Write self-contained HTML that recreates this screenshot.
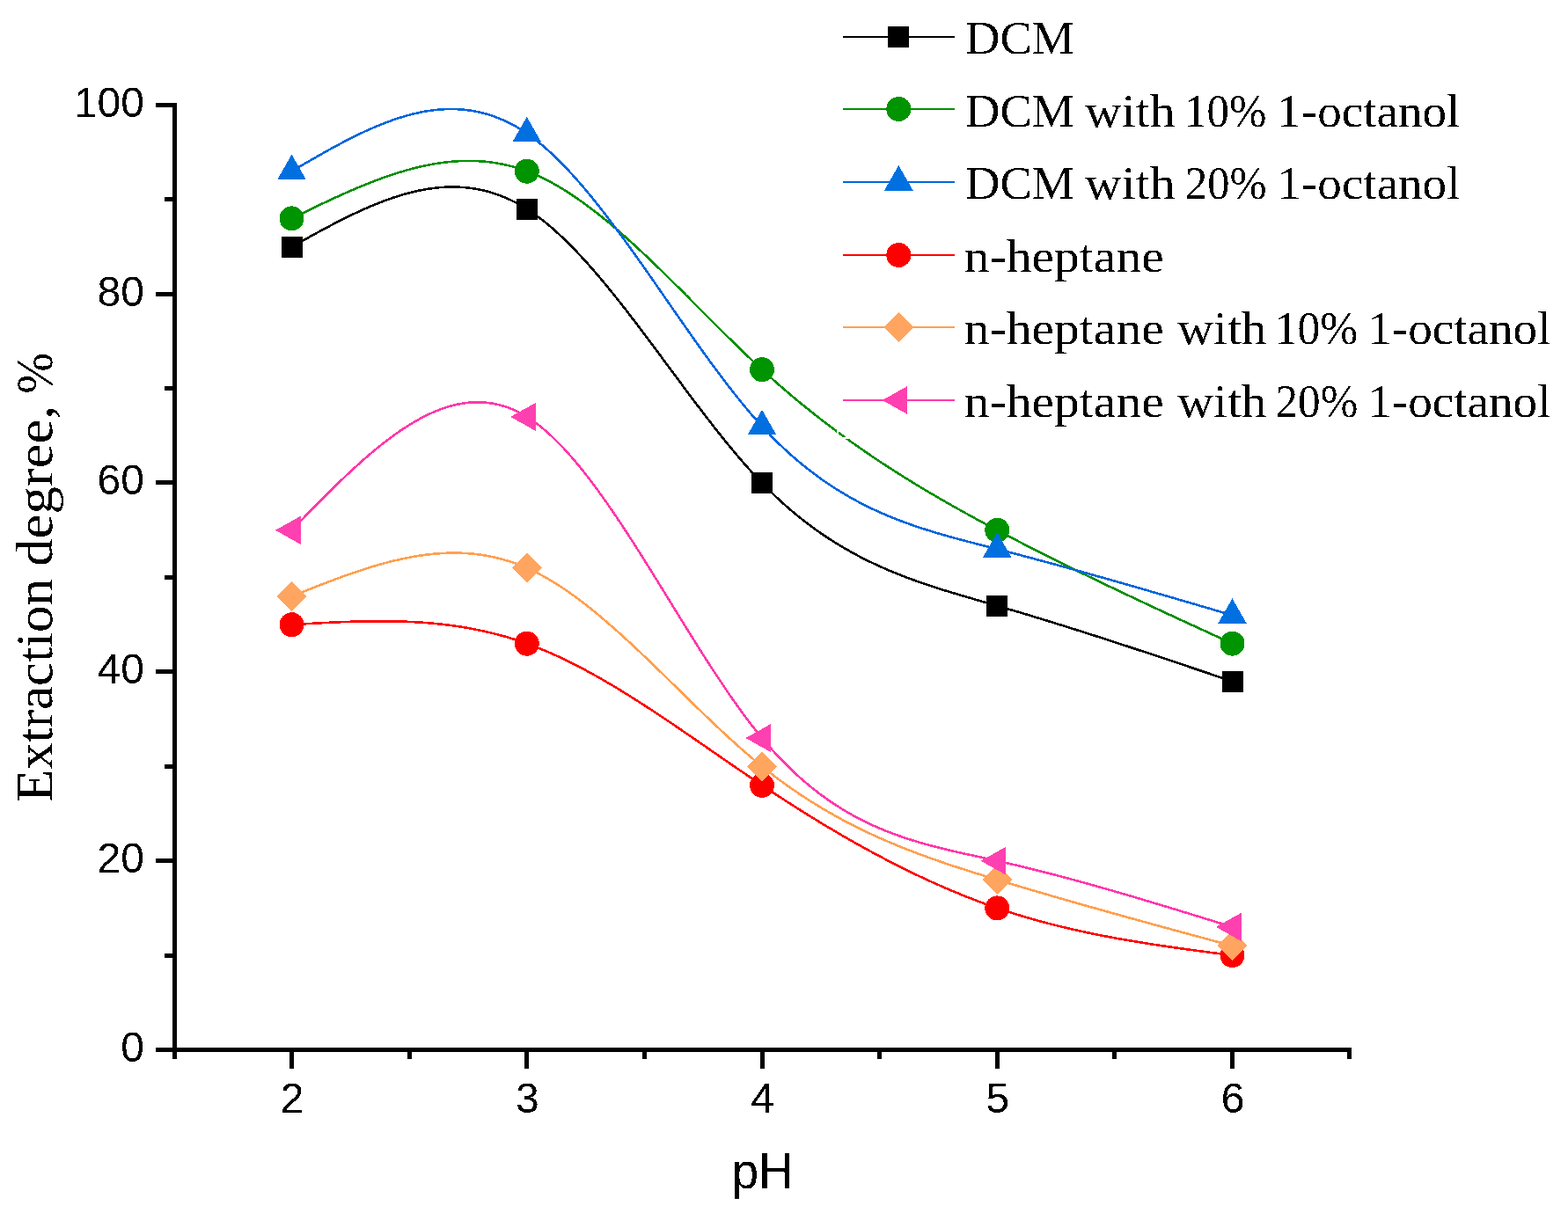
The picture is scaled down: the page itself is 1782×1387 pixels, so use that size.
<!DOCTYPE html>
<html><head><meta charset="utf-8"><title>Extraction degree vs pH</title>
<style>html,body{margin:0;padding:0;background:#fff;}body{width:1782px;height:1387px;overflow:hidden;}svg{display:block;}</style>
</head><body>
<svg width="1782" height="1387" viewBox="0 0 1782 1387"><defs><filter id="bin" x="-5%" y="-20%" width="110%" height="140%" color-interpolation-filters="sRGB"><feComponentTransfer><feFuncA type="discrete" tableValues="0 1"/></feComponentTransfer></filter></defs>
<g fill="#000" shape-rendering="crispEdges">
<rect x="196" y="117" width="5" height="1079"/>
<rect x="196" y="1191" width="1340" height="5"/>
<rect x="177" y="1191" width="22" height="5"/>
<rect x="177" y="976" width="22" height="5"/>
<rect x="177" y="761" width="22" height="5"/>
<rect x="177" y="546" width="22" height="5"/>
<rect x="177" y="332" width="22" height="5"/>
<rect x="177" y="117" width="22" height="5"/>
<rect x="187" y="1084" width="12" height="5"/>
<rect x="187" y="869" width="12" height="5"/>
<rect x="187" y="654" width="12" height="5"/>
<rect x="187" y="439" width="12" height="5"/>
<rect x="187" y="224" width="12" height="5"/>
<rect x="329" y="1193" width="5" height="22"/>
<rect x="596" y="1193" width="5" height="22"/>
<rect x="864" y="1193" width="5" height="22"/>
<rect x="1131" y="1193" width="5" height="22"/>
<rect x="1398" y="1193" width="5" height="22"/>
<rect x="196" y="1193" width="5" height="11"/>
<rect x="463" y="1193" width="5" height="11"/>
<rect x="730" y="1193" width="5" height="11"/>
<rect x="997" y="1193" width="5" height="11"/>
<rect x="1264" y="1193" width="5" height="11"/>
<rect x="1531" y="1193" width="5" height="11"/>
</g>
<g font-family="Liberation Sans, Arial, sans-serif" font-size="48" fill="#000" filter="url(#bin)">
<text x="164" y="1206.70" text-anchor="end">0</text>
<text x="164" y="991.90" text-anchor="end">20</text>
<text x="164" y="777.10" text-anchor="end">40</text>
<text x="164" y="562.30" text-anchor="end">60</text>
<text x="164" y="347.50" text-anchor="end">80</text>
<text x="164" y="132.70" text-anchor="end">100</text>
<text x="332.02" y="1264.8" text-anchor="middle">2</text>
<text x="599.27" y="1264.8" text-anchor="middle">3</text>
<text x="866.52" y="1264.8" text-anchor="middle">4</text>
<text x="1133.78" y="1264.8" text-anchor="middle">5</text>
<text x="1401.03" y="1264.8" text-anchor="middle">6</text>
</g>
<text filter="url(#bin)" x="831.7" y="1350.5" font-family="Liberation Sans, Arial, sans-serif" font-size="58" textLength="69.8" lengthAdjust="spacingAndGlyphs">pH</text>
<text filter="url(#bin)" transform="translate(59.2,912) rotate(-90)" font-family="Liberation Serif, serif" font-size="60"><tspan x="-0.03" textLength="254.05" lengthAdjust="spacingAndGlyphs">Extraction</tspan> <tspan x="268.21" textLength="182.95" lengthAdjust="spacingAndGlyphs">degree,</tspan> <tspan x="464.13" textLength="46.72" lengthAdjust="spacingAndGlyphs">%</tspan></text>
<polyline points="331.52,280.60 334.20,279.11 336.87,277.62 339.54,276.13 342.22,274.64 344.89,273.15 347.56,271.67 350.23,270.19 352.91,268.72 355.58,267.25 358.25,265.79 360.92,264.33 363.60,262.88 366.27,261.44 368.94,260.00 371.61,258.58 374.29,257.16 376.96,255.76 379.63,254.36 382.30,252.98 384.98,251.61 387.65,250.25 390.32,248.91 392.99,247.57 395.67,246.26 398.34,244.96 401.01,243.67 403.68,242.40 406.36,241.15 409.03,239.92 411.70,238.71 414.37,237.51 417.04,236.33 419.72,235.18 422.39,234.04 425.06,232.93 427.74,231.84 430.41,230.77 433.08,229.73 435.75,228.71 438.42,227.72 441.10,226.75 443.77,225.80 446.44,224.89 449.12,224.00 451.79,223.14 454.46,222.31 457.13,221.50 459.80,220.73 462.48,219.99 465.15,219.28 467.82,218.60 470.50,217.95 473.17,217.34 475.84,216.76 478.51,216.21 481.19,215.70 483.86,215.23 486.53,214.79 489.20,214.39 491.88,214.02 494.55,213.70 497.22,213.41 499.89,213.17 502.57,212.96 505.24,212.79 507.91,212.67 510.58,212.59 513.25,212.55 515.93,212.55 518.60,212.60 521.27,212.69 523.94,212.83 526.62,213.01 529.29,213.24 531.96,213.52 534.63,213.84 537.31,214.22 539.98,214.64 542.65,215.11 545.32,215.63 548.00,216.21 550.67,216.83 553.34,217.51 556.01,218.24 558.69,219.02 561.36,219.86 564.03,220.75 566.70,221.70 569.38,222.71 572.05,223.77 574.72,224.89 577.39,226.06 580.07,227.30 582.74,228.59 585.41,229.95 588.09,231.36 590.76,232.84 593.43,234.38 596.10,235.98 598.77,237.64 601.45,239.37 604.12,241.16 606.79,243.01 609.47,244.92 612.14,246.89 614.81,248.92 617.48,251.01 620.15,253.15 622.83,255.35 625.50,257.60 628.17,259.91 630.85,262.27 633.52,264.68 636.19,267.14 638.86,269.65 641.54,272.20 644.21,274.80 646.88,277.45 649.55,280.15 652.23,282.88 654.90,285.66 657.57,288.48 660.24,291.34 662.92,294.24 665.59,297.18 668.26,300.16 670.93,303.17 673.61,306.22 676.28,309.30 678.95,312.41 681.62,315.56 684.30,318.74 686.97,321.94 689.64,325.18 692.31,328.44 694.99,331.73 697.66,335.05 700.33,338.39 703.00,341.75 705.68,345.14 708.35,348.55 711.02,351.97 713.69,355.42 716.37,358.88 719.04,362.37 721.71,365.86 724.38,369.38 727.05,372.90 729.73,376.44 732.40,379.99 735.07,383.55 737.75,387.13 740.42,390.71 743.09,394.29 745.76,397.89 748.43,401.49 751.11,405.09 753.78,408.70 756.45,412.31 759.12,415.92 761.80,419.53 764.47,423.14 767.14,426.75 769.82,430.35 772.49,433.95 775.16,437.55 777.83,441.13 780.50,444.72 783.18,448.29 785.85,451.85 788.52,455.41 791.19,458.95 793.87,462.48 796.54,465.99 799.21,469.49 801.88,472.98 804.56,476.44 807.23,479.89 809.90,483.32 812.57,486.73 815.25,490.12 817.92,493.49 820.59,496.84 823.26,500.16 825.94,503.45 828.61,506.72 831.28,509.96 833.95,513.17 836.63,516.35 839.30,519.50 841.97,522.62 844.64,525.71 847.32,528.76 849.99,531.78 852.66,534.77 855.33,537.71 858.01,540.62 860.68,543.49 863.35,546.31 866.02,549.10 868.70,551.84 871.37,554.55 874.04,557.21 876.72,559.83 879.39,562.41 882.06,564.95 884.73,567.45 887.40,569.91 890.08,572.33 892.75,574.71 895.42,577.06 898.10,579.37 900.77,581.64 903.44,583.87 906.11,586.07 908.78,588.23 911.46,590.36 914.13,592.46 916.80,594.51 919.48,596.54 922.15,598.53 924.82,600.49 927.49,602.42 930.17,604.31 932.84,606.17 935.51,608.01 938.18,609.81 940.86,611.58 943.53,613.32 946.20,615.03 948.87,616.71 951.55,618.37 954.22,619.99 956.89,621.59 959.56,623.16 962.23,624.71 964.91,626.23 967.58,627.72 970.25,629.19 972.93,630.63 975.60,632.05 978.27,633.45 980.94,634.82 983.61,636.16 986.29,637.49 988.96,638.79 991.63,640.07 994.31,641.34 996.98,642.57 999.65,643.79 1002.32,644.99 1004.99,646.17 1007.67,647.33 1010.34,648.48 1013.01,649.60 1015.69,650.71 1018.36,651.80 1021.03,652.87 1023.70,653.93 1026.38,654.97 1029.05,655.99 1031.72,657.00 1034.39,658.00 1037.07,658.98 1039.74,659.95 1042.41,660.90 1045.08,661.84 1047.75,662.77 1050.43,663.69 1053.10,664.60 1055.77,665.49 1058.45,666.38 1061.12,667.25 1063.79,668.12 1066.46,668.97 1069.13,669.82 1071.81,670.66 1074.48,671.49 1077.15,672.31 1079.83,673.13 1082.50,673.94 1085.17,674.75 1087.84,675.55 1090.52,676.34 1093.19,677.13 1095.86,677.92 1098.53,678.70 1101.20,679.48 1103.88,680.25 1106.55,681.02 1109.22,681.79 1111.89,682.56 1114.57,683.33 1117.24,684.10 1119.91,684.87 1122.59,685.64 1125.26,686.40 1127.93,687.17 1130.60,687.95 1133.28,688.72 1135.95,689.50 1138.62,690.27 1141.29,691.06 1143.97,691.84 1146.64,692.63 1149.31,693.41 1151.98,694.20 1154.65,695.00 1157.33,695.79 1160.00,696.59 1162.67,697.39 1165.35,698.19 1168.02,699.00 1170.69,699.80 1173.36,700.61 1176.04,701.42 1178.71,702.24 1181.38,703.05 1184.05,703.87 1186.73,704.69 1189.40,705.51 1192.07,706.33 1194.74,707.16 1197.42,707.99 1200.09,708.82 1202.76,709.65 1205.43,710.48 1208.11,711.31 1210.78,712.15 1213.45,712.99 1216.12,713.83 1218.80,714.67 1221.47,715.52 1224.14,716.36 1226.81,717.21 1229.48,718.06 1232.16,718.91 1234.83,719.76 1237.50,720.61 1240.18,721.47 1242.85,722.32 1245.52,723.18 1248.19,724.04 1250.87,724.90 1253.54,725.77 1256.21,726.63 1258.88,727.49 1261.56,728.36 1264.23,729.23 1266.90,730.10 1269.57,730.97 1272.24,731.84 1274.92,732.71 1277.59,733.59 1280.26,734.46 1282.94,735.34 1285.61,736.22 1288.28,737.09 1290.95,737.97 1293.62,738.85 1296.30,739.74 1298.97,740.62 1301.64,741.50 1304.32,742.39 1306.99,743.27 1309.66,744.16 1312.33,745.05 1315.01,745.93 1317.68,746.82 1320.35,747.71 1323.02,748.60 1325.70,749.49 1328.37,750.39 1331.04,751.28 1333.71,752.17 1336.38,753.06 1339.06,753.96 1341.73,754.85 1344.40,755.75 1347.08,756.65 1349.75,757.54 1352.42,758.44 1355.09,759.34 1357.77,760.23 1360.44,761.13 1363.11,762.03 1365.78,762.93 1368.46,763.83 1371.13,764.73 1373.80,765.63 1376.47,766.53 1379.14,767.43 1381.82,768.33 1384.49,769.23 1387.16,770.13 1389.84,771.03 1392.51,771.94 1395.18,772.84 1397.85,773.74 1400.53,774.64" fill="none" stroke="#000000" stroke-width="2.6" stroke-linejoin="round" shape-rendering="crispEdges"/>
<rect x="319.52" y="268.60" width="24" height="24" fill="#000000" shape-rendering="crispEdges"/>
<rect x="586.77" y="225.64" width="24" height="24" fill="#000000" shape-rendering="crispEdges"/>
<rect x="854.02" y="537.10" width="24" height="24" fill="#000000" shape-rendering="crispEdges"/>
<rect x="1121.28" y="676.72" width="24" height="24" fill="#000000" shape-rendering="crispEdges"/>
<rect x="1388.53" y="762.64" width="24" height="24" fill="#000000" shape-rendering="crispEdges"/>
<polyline points="331.52,248.38 334.20,247.07 336.87,245.77 339.54,244.46 342.22,243.16 344.89,241.86 347.56,240.56 350.23,239.26 352.91,237.97 355.58,236.68 358.25,235.40 360.92,234.12 363.60,232.84 366.27,231.57 368.94,230.31 371.61,229.05 374.29,227.80 376.96,226.55 379.63,225.32 382.30,224.09 384.98,222.87 387.65,221.66 390.32,220.47 392.99,219.28 395.67,218.10 398.34,216.93 401.01,215.77 403.68,214.63 406.36,213.50 409.03,212.38 411.70,211.27 414.37,210.18 417.04,209.11 419.72,208.04 422.39,207.00 425.06,205.97 427.74,204.95 430.41,203.95 433.08,202.97 435.75,202.01 438.42,201.06 441.10,200.13 443.77,199.22 446.44,198.33 449.12,197.46 451.79,196.62 454.46,195.79 457.13,194.98 459.80,194.19 462.48,193.43 465.15,192.69 467.82,191.97 470.50,191.28 473.17,190.61 475.84,189.96 478.51,189.34 481.19,188.75 483.86,188.18 486.53,187.63 489.20,187.12 491.88,186.63 494.55,186.17 497.22,185.73 499.89,185.33 502.57,184.95 505.24,184.61 507.91,184.29 510.58,184.00 513.25,183.75 515.93,183.53 518.60,183.33 521.27,183.18 523.94,183.05 526.62,182.96 529.29,182.90 531.96,182.87 534.63,182.88 537.31,182.92 539.98,183.00 542.65,183.12 545.32,183.27 548.00,183.46 550.67,183.69 553.34,183.95 556.01,184.25 558.69,184.59 561.36,184.98 564.03,185.40 566.70,185.86 569.38,186.36 572.05,186.90 574.72,187.48 577.39,188.11 580.07,188.78 582.74,189.49 585.41,190.24 588.09,191.04 590.76,191.88 593.43,192.77 596.10,193.70 598.77,194.68 601.45,195.70 604.12,196.77 606.79,197.89 609.47,199.05 612.14,200.25 614.81,201.49 617.48,202.78 620.15,204.11 622.83,205.48 625.50,206.89 628.17,208.34 630.85,209.83 633.52,211.36 636.19,212.93 638.86,214.53 641.54,216.17 644.21,217.85 646.88,219.56 649.55,221.31 652.23,223.09 654.90,224.90 657.57,226.75 660.24,228.63 662.92,230.54 665.59,232.48 668.26,234.46 670.93,236.46 673.61,238.49 676.28,240.55 678.95,242.64 681.62,244.75 684.30,246.89 686.97,249.06 689.64,251.25 692.31,253.47 694.99,255.71 697.66,257.97 700.33,260.26 703.00,262.57 705.68,264.90 708.35,267.25 711.02,269.63 713.69,272.02 716.37,274.43 719.04,276.86 721.71,279.30 724.38,281.77 727.05,284.25 729.73,286.74 732.40,289.25 735.07,291.78 737.75,294.32 740.42,296.87 743.09,299.44 745.76,302.02 748.43,304.61 751.11,307.21 753.78,309.82 756.45,312.43 759.12,315.06 761.80,317.70 764.47,320.34 767.14,323.00 769.82,325.65 772.49,328.32 775.16,330.98 777.83,333.66 780.50,336.33 783.18,339.01 785.85,341.70 788.52,344.38 791.19,347.07 793.87,349.75 796.54,352.44 799.21,355.12 801.88,357.81 804.56,360.49 807.23,363.17 809.90,365.85 812.57,368.52 815.25,371.19 817.92,373.85 820.59,376.51 823.26,379.16 825.94,381.81 828.61,384.45 831.28,387.07 833.95,389.69 836.63,392.31 839.30,394.91 841.97,397.50 844.64,400.07 847.32,402.64 849.99,405.20 852.66,407.74 855.33,410.26 858.01,412.78 860.68,415.27 863.35,417.75 866.02,420.22 868.70,422.67 871.37,425.10 874.04,427.51 876.72,429.91 879.39,432.29 882.06,434.66 884.73,437.01 887.40,439.34 890.08,441.66 892.75,443.96 895.42,446.24 898.10,448.51 900.77,450.77 903.44,453.01 906.11,455.23 908.78,457.44 911.46,459.63 914.13,461.81 916.80,463.98 919.48,466.13 922.15,468.26 924.82,470.38 927.49,472.49 930.17,474.58 932.84,476.66 935.51,478.73 938.18,480.78 940.86,482.82 943.53,484.84 946.20,486.85 948.87,488.85 951.55,490.84 954.22,492.81 956.89,494.77 959.56,496.72 962.23,498.66 964.91,500.58 967.58,502.49 970.25,504.39 972.93,506.28 975.60,508.15 978.27,510.02 980.94,511.87 983.61,513.71 986.29,515.54 988.96,517.36 991.63,519.17 994.31,520.97 996.98,522.75 999.65,524.53 1002.32,526.29 1004.99,528.05 1007.67,529.79 1010.34,531.53 1013.01,533.25 1015.69,534.97 1018.36,536.67 1021.03,538.37 1023.70,540.06 1026.38,541.74 1029.05,543.40 1031.72,545.06 1034.39,546.71 1037.07,548.36 1039.74,549.99 1042.41,551.62 1045.08,553.23 1047.75,554.84 1050.43,556.44 1053.10,558.03 1055.77,559.62 1058.45,561.20 1061.12,562.77 1063.79,564.33 1066.46,565.88 1069.13,567.43 1071.81,568.97 1074.48,570.51 1077.15,572.04 1079.83,573.56 1082.50,575.07 1085.17,576.58 1087.84,578.08 1090.52,579.58 1093.19,581.07 1095.86,582.55 1098.53,584.03 1101.20,585.50 1103.88,586.97 1106.55,588.43 1109.22,589.89 1111.89,591.34 1114.57,592.79 1117.24,594.23 1119.91,595.67 1122.59,597.11 1125.26,598.54 1127.93,599.96 1130.60,601.38 1133.28,602.80 1135.95,604.21 1138.62,605.62 1141.29,607.03 1143.97,608.43 1146.64,609.83 1149.31,611.23 1151.98,612.62 1154.65,614.00 1157.33,615.39 1160.00,616.77 1162.67,618.15 1165.35,619.52 1168.02,620.89 1170.69,622.26 1173.36,623.62 1176.04,624.99 1178.71,626.34 1181.38,627.70 1184.05,629.05 1186.73,630.40 1189.40,631.74 1192.07,633.09 1194.74,634.43 1197.42,635.76 1200.09,637.10 1202.76,638.43 1205.43,639.76 1208.11,641.08 1210.78,642.40 1213.45,643.72 1216.12,645.04 1218.80,646.36 1221.47,647.67 1224.14,648.98 1226.81,650.28 1229.48,651.59 1232.16,652.89 1234.83,654.19 1237.50,655.49 1240.18,656.78 1242.85,658.08 1245.52,659.37 1248.19,660.65 1250.87,661.94 1253.54,663.22 1256.21,664.51 1258.88,665.79 1261.56,667.06 1264.23,668.34 1266.90,669.61 1269.57,670.89 1272.24,672.16 1274.92,673.42 1277.59,674.69 1280.26,675.96 1282.94,677.22 1285.61,678.48 1288.28,679.74 1290.95,681.00 1293.62,682.25 1296.30,683.51 1298.97,684.76 1301.64,686.02 1304.32,687.27 1306.99,688.52 1309.66,689.76 1312.33,691.01 1315.01,692.26 1317.68,693.50 1320.35,694.74 1323.02,695.99 1325.70,697.23 1328.37,698.47 1331.04,699.71 1333.71,700.94 1336.38,702.18 1339.06,703.42 1341.73,704.65 1344.40,705.89 1347.08,707.12 1349.75,708.35 1352.42,709.58 1355.09,710.82 1357.77,712.05 1360.44,713.28 1363.11,714.51 1365.78,715.73 1368.46,716.96 1371.13,718.19 1373.80,719.42 1376.47,720.65 1379.14,721.87 1381.82,723.10 1384.49,724.33 1387.16,725.55 1389.84,726.78 1392.51,728.00 1395.18,729.23 1397.85,730.45 1400.53,731.68" fill="none" stroke="#009000" stroke-width="2.6" stroke-linejoin="round" shape-rendering="crispEdges"/>
<circle cx="331.52" cy="248.38" r="14" fill="#009400" shape-rendering="crispEdges"/>
<circle cx="598.77" cy="194.68" r="14" fill="#009400" shape-rendering="crispEdges"/>
<circle cx="866.02" cy="420.22" r="14" fill="#009400" shape-rendering="crispEdges"/>
<circle cx="1133.28" cy="602.80" r="14" fill="#009400" shape-rendering="crispEdges"/>
<circle cx="1400.53" cy="731.68" r="14" fill="#009400" shape-rendering="crispEdges"/>
<polyline points="331.52,194.68 334.20,193.12 336.87,191.55 339.54,189.99 342.22,188.44 344.89,186.88 347.56,185.33 350.23,183.78 352.91,182.23 355.58,180.70 358.25,179.16 360.92,177.64 363.60,176.12 366.27,174.61 368.94,173.11 371.61,171.62 374.29,170.14 376.96,168.66 379.63,167.21 382.30,165.76 384.98,164.33 387.65,162.91 390.32,161.50 392.99,160.11 395.67,158.73 398.34,157.37 401.01,156.03 403.68,154.71 406.36,153.40 409.03,152.12 411.70,150.85 414.37,149.60 417.04,148.38 419.72,147.17 422.39,145.99 425.06,144.83 427.74,143.70 430.41,142.59 433.08,141.50 435.75,140.44 438.42,139.41 441.10,138.41 443.77,137.43 446.44,136.48 449.12,135.56 451.79,134.67 454.46,133.81 457.13,132.98 459.80,132.19 462.48,131.43 465.15,130.70 467.82,130.00 470.50,129.34 473.17,128.71 475.84,128.12 478.51,127.57 481.19,127.05 483.86,126.58 486.53,126.14 489.20,125.74 491.88,125.38 494.55,125.06 497.22,124.78 499.89,124.55 502.57,124.36 505.24,124.21 507.91,124.10 510.58,124.05 513.25,124.03 515.93,124.06 518.60,124.14 521.27,124.27 523.94,124.45 526.62,124.67 529.29,124.94 531.96,125.27 534.63,125.64 537.31,126.07 539.98,126.55 542.65,127.08 545.32,127.67 548.00,128.31 550.67,129.00 553.34,129.76 556.01,130.56 558.69,131.43 561.36,132.35 564.03,133.33 566.70,134.37 569.38,135.47 572.05,136.63 574.72,137.86 577.39,139.14 580.07,140.49 582.74,141.90 585.41,143.37 588.09,144.91 590.76,146.51 593.43,148.18 596.10,149.92 598.77,151.72 601.45,153.59 604.12,155.53 606.79,157.53 609.47,159.60 612.14,161.73 614.81,163.93 617.48,166.18 620.15,168.50 622.83,170.87 625.50,173.30 628.17,175.79 630.85,178.33 633.52,180.93 636.19,183.58 638.86,186.29 641.54,189.04 644.21,191.84 646.88,194.70 649.55,197.60 652.23,200.54 654.90,203.53 657.57,206.57 660.24,209.64 662.92,212.76 665.59,215.92 668.26,219.12 670.93,222.36 673.61,225.63 676.28,228.94 678.95,232.29 681.62,235.67 684.30,239.08 686.97,242.52 689.64,246.00 692.31,249.50 694.99,253.03 697.66,256.59 700.33,260.17 703.00,263.77 705.68,267.41 708.35,271.06 711.02,274.73 713.69,278.42 716.37,282.14 719.04,285.87 721.71,289.61 724.38,293.38 727.05,297.15 729.73,300.94 732.40,304.74 735.07,308.55 737.75,312.37 740.42,316.20 743.09,320.04 745.76,323.88 748.43,327.73 751.11,331.58 753.78,335.44 756.45,339.30 759.12,343.15 761.80,347.01 764.47,350.86 767.14,354.72 769.82,358.56 772.49,362.40 775.16,366.24 777.83,370.07 780.50,373.89 783.18,377.70 785.85,381.50 788.52,385.28 791.19,389.06 793.87,392.81 796.54,396.56 799.21,400.28 801.88,403.99 804.56,407.68 807.23,411.35 809.90,415.00 812.57,418.62 815.25,422.23 817.92,425.80 820.59,429.36 823.26,432.88 825.94,436.38 828.61,439.84 831.28,443.28 833.95,446.68 836.63,450.06 839.30,453.39 841.97,456.70 844.64,459.96 847.32,463.19 849.99,466.39 852.66,469.54 855.33,472.65 858.01,475.72 860.68,478.74 863.35,481.72 866.02,484.66 868.70,487.55 871.37,490.39 874.04,493.19 876.72,495.95 879.39,498.66 882.06,501.32 884.73,503.94 887.40,506.52 890.08,509.06 892.75,511.55 895.42,514.00 898.10,516.41 900.77,518.78 903.44,521.11 906.11,523.40 908.78,525.65 911.46,527.86 914.13,530.04 916.80,532.17 919.48,534.27 922.15,536.33 924.82,538.36 927.49,540.35 930.17,542.30 932.84,544.22 935.51,546.11 938.18,547.96 940.86,549.78 943.53,551.56 946.20,553.32 948.87,555.04 951.55,556.73 954.22,558.38 956.89,560.01 959.56,561.61 962.23,563.18 964.91,564.72 967.58,566.23 970.25,567.71 972.93,569.17 975.60,570.59 978.27,571.99 980.94,573.37 983.61,574.72 986.29,576.04 988.96,577.34 991.63,578.62 994.31,579.87 996.98,581.10 999.65,582.30 1002.32,583.49 1004.99,584.65 1007.67,585.79 1010.34,586.91 1013.01,588.01 1015.69,589.09 1018.36,590.15 1021.03,591.19 1023.70,592.21 1026.38,593.21 1029.05,594.20 1031.72,595.17 1034.39,596.13 1037.07,597.06 1039.74,597.99 1042.41,598.89 1045.08,599.79 1047.75,600.66 1050.43,601.53 1053.10,602.38 1055.77,603.22 1058.45,604.05 1061.12,604.87 1063.79,605.67 1066.46,606.46 1069.13,607.25 1071.81,608.02 1074.48,608.79 1077.15,609.55 1079.83,610.29 1082.50,611.03 1085.17,611.77 1087.84,612.49 1090.52,613.21 1093.19,613.93 1095.86,614.64 1098.53,615.34 1101.20,616.04 1103.88,616.74 1106.55,617.43 1109.22,618.12 1111.89,618.81 1114.57,619.49 1117.24,620.18 1119.91,620.86 1122.59,621.54 1125.26,622.23 1127.93,622.91 1130.60,623.59 1133.28,624.28 1135.95,624.97 1138.62,625.66 1141.29,626.35 1143.97,627.04 1146.64,627.74 1149.31,628.43 1151.98,629.13 1154.65,629.83 1157.33,630.54 1160.00,631.24 1162.67,631.95 1165.35,632.65 1168.02,633.36 1170.69,634.08 1173.36,634.79 1176.04,635.50 1178.71,636.22 1181.38,636.94 1184.05,637.66 1186.73,638.38 1189.40,639.10 1192.07,639.82 1194.74,640.55 1197.42,641.28 1200.09,642.01 1202.76,642.74 1205.43,643.47 1208.11,644.20 1210.78,644.93 1213.45,645.67 1216.12,646.41 1218.80,647.15 1221.47,647.89 1224.14,648.63 1226.81,649.37 1229.48,650.11 1232.16,650.86 1234.83,651.60 1237.50,652.35 1240.18,653.10 1242.85,653.85 1245.52,654.60 1248.19,655.35 1250.87,656.11 1253.54,656.86 1256.21,657.62 1258.88,658.37 1261.56,659.13 1264.23,659.89 1266.90,660.65 1269.57,661.41 1272.24,662.17 1274.92,662.93 1277.59,663.69 1280.26,664.46 1282.94,665.22 1285.61,665.99 1288.28,666.76 1290.95,667.52 1293.62,668.29 1296.30,669.06 1298.97,669.83 1301.64,670.60 1304.32,671.37 1306.99,672.15 1309.66,672.92 1312.33,673.69 1315.01,674.47 1317.68,675.24 1320.35,676.02 1323.02,676.79 1325.70,677.57 1328.37,678.35 1331.04,679.12 1333.71,679.90 1336.38,680.68 1339.06,681.46 1341.73,682.24 1344.40,683.02 1347.08,683.80 1349.75,684.58 1352.42,685.36 1355.09,686.14 1357.77,686.92 1360.44,687.70 1363.11,688.49 1365.78,689.27 1368.46,690.05 1371.13,690.84 1373.80,691.62 1376.47,692.40 1379.14,693.19 1381.82,693.97 1384.49,694.75 1387.16,695.54 1389.84,696.32 1392.51,697.11 1395.18,697.89 1397.85,698.68 1400.53,699.46" fill="none" stroke="#0066DD" stroke-width="2.6" stroke-linejoin="round" shape-rendering="crispEdges"/>
<polygon points="331.52,175.68 347.82,204.18 315.22,204.18" fill="#0070E0" shape-rendering="crispEdges"/>
<polygon points="598.77,132.72 615.07,161.22 582.48,161.22" fill="#0070E0" shape-rendering="crispEdges"/>
<polygon points="866.02,465.66 882.32,494.16 849.73,494.16" fill="#0070E0" shape-rendering="crispEdges"/>
<polygon points="1133.28,605.28 1149.58,633.78 1116.98,633.78" fill="#0070E0" shape-rendering="crispEdges"/>
<polygon points="1400.53,680.46 1416.83,708.96 1384.23,708.96" fill="#0070E0" shape-rendering="crispEdges"/>
<polyline points="331.52,710.20 334.20,710.04 336.87,709.88 339.54,709.72 342.22,709.57 344.89,709.41 347.56,709.25 350.23,709.10 352.91,708.95 355.58,708.79 358.25,708.65 360.92,708.50 363.60,708.35 366.27,708.21 368.94,708.07 371.61,707.94 374.29,707.81 376.96,707.68 379.63,707.55 382.30,707.43 384.98,707.32 387.65,707.20 390.32,707.10 392.99,706.99 395.67,706.90 398.34,706.80 401.01,706.72 403.68,706.64 406.36,706.56 409.03,706.50 411.70,706.43 414.37,706.38 417.04,706.33 419.72,706.29 422.39,706.26 425.06,706.23 427.74,706.21 430.41,706.20 433.08,706.20 435.75,706.21 438.42,706.23 441.10,706.25 443.77,706.29 446.44,706.33 449.12,706.38 451.79,706.44 454.46,706.52 457.13,706.60 459.80,706.70 462.48,706.80 465.15,706.92 467.82,707.04 470.50,707.18 473.17,707.33 475.84,707.49 478.51,707.67 481.19,707.85 483.86,708.05 486.53,708.26 489.20,708.49 491.88,708.73 494.55,708.98 497.22,709.24 499.89,709.52 502.57,709.82 505.24,710.12 507.91,710.45 510.58,710.78 513.25,711.13 515.93,711.50 518.60,711.88 521.27,712.28 523.94,712.70 526.62,713.13 529.29,713.58 531.96,714.04 534.63,714.52 537.31,715.02 539.98,715.53 542.65,716.06 545.32,716.61 548.00,717.18 550.67,717.77 553.34,718.37 556.01,718.99 558.69,719.64 561.36,720.30 564.03,720.98 566.70,721.68 569.38,722.40 572.05,723.14 574.72,723.90 577.39,724.68 580.07,725.48 582.74,726.30 585.41,727.14 588.09,728.01 590.76,728.89 593.43,729.80 596.10,730.73 598.77,731.68 601.45,732.65 604.12,733.65 606.79,734.67 609.47,735.71 612.14,736.77 614.81,737.85 617.48,738.95 620.15,740.08 622.83,741.22 625.50,742.38 628.17,743.56 630.85,744.77 633.52,745.99 636.19,747.23 638.86,748.49 641.54,749.76 644.21,751.06 646.88,752.37 649.55,753.70 652.23,755.04 654.90,756.41 657.57,757.79 660.24,759.18 662.92,760.59 665.59,762.02 668.26,763.46 670.93,764.92 673.61,766.39 676.28,767.88 678.95,769.38 681.62,770.90 684.30,772.42 686.97,773.97 689.64,775.52 692.31,777.09 694.99,778.67 697.66,780.26 700.33,781.87 703.00,783.48 705.68,785.11 708.35,786.75 711.02,788.40 713.69,790.06 716.37,791.73 719.04,793.41 721.71,795.10 724.38,796.80 727.05,798.50 729.73,800.22 732.40,801.95 735.07,803.68 737.75,805.42 740.42,807.17 743.09,808.93 745.76,810.69 748.43,812.46 751.11,814.24 753.78,816.02 756.45,817.81 759.12,819.60 761.80,821.40 764.47,823.21 767.14,825.02 769.82,826.83 772.49,828.65 775.16,830.48 777.83,832.30 780.50,834.13 783.18,835.96 785.85,837.80 788.52,839.64 791.19,841.48 793.87,843.32 796.54,845.17 799.21,847.01 801.88,848.86 804.56,850.71 807.23,852.55 809.90,854.40 812.57,856.25 815.25,858.10 817.92,859.95 820.59,861.79 823.26,863.64 825.94,865.48 828.61,867.33 831.28,869.17 833.95,871.00 836.63,872.84 839.30,874.67 841.97,876.50 844.64,878.33 847.32,880.15 849.99,881.97 852.66,883.78 855.33,885.59 858.01,887.40 860.68,889.20 863.35,890.99 866.02,892.78 868.70,894.56 871.37,896.34 874.04,898.11 876.72,899.87 879.39,901.63 882.06,903.38 884.73,905.13 887.40,906.87 890.08,908.60 892.75,910.33 895.42,912.05 898.10,913.76 900.77,915.47 903.44,917.17 906.11,918.86 908.78,920.55 911.46,922.22 914.13,923.90 916.80,925.56 919.48,927.22 922.15,928.87 924.82,930.52 927.49,932.15 930.17,933.78 932.84,935.41 935.51,937.02 938.18,938.63 940.86,940.23 943.53,941.82 946.20,943.41 948.87,944.99 951.55,946.56 954.22,948.12 956.89,949.67 959.56,951.22 962.23,952.76 964.91,954.29 967.58,955.82 970.25,957.33 972.93,958.84 975.60,960.34 978.27,961.83 980.94,963.31 983.61,964.78 986.29,966.25 988.96,967.71 991.63,969.15 994.31,970.60 996.98,972.03 999.65,973.45 1002.32,974.86 1004.99,976.27 1007.67,977.67 1010.34,979.05 1013.01,980.43 1015.69,981.80 1018.36,983.17 1021.03,984.52 1023.70,985.86 1026.38,987.19 1029.05,988.52 1031.72,989.83 1034.39,991.14 1037.07,992.44 1039.74,993.72 1042.41,995.00 1045.08,996.27 1047.75,997.53 1050.43,998.78 1053.10,1000.01 1055.77,1001.24 1058.45,1002.46 1061.12,1003.67 1063.79,1004.87 1066.46,1006.06 1069.13,1007.24 1071.81,1008.41 1074.48,1009.57 1077.15,1010.72 1079.83,1011.86 1082.50,1012.99 1085.17,1014.11 1087.84,1015.21 1090.52,1016.31 1093.19,1017.40 1095.86,1018.47 1098.53,1019.54 1101.20,1020.59 1103.88,1021.64 1106.55,1022.67 1109.22,1023.69 1111.89,1024.71 1114.57,1025.71 1117.24,1026.70 1119.91,1027.68 1122.59,1028.64 1125.26,1029.60 1127.93,1030.54 1130.60,1031.48 1133.28,1032.40 1135.95,1033.31 1138.62,1034.21 1141.29,1035.10 1143.97,1035.98 1146.64,1036.84 1149.31,1037.70 1151.98,1038.54 1154.65,1039.38 1157.33,1040.20 1160.00,1041.02 1162.67,1041.82 1165.35,1042.61 1168.02,1043.40 1170.69,1044.17 1173.36,1044.93 1176.04,1045.69 1178.71,1046.43 1181.38,1047.17 1184.05,1047.89 1186.73,1048.61 1189.40,1049.32 1192.07,1050.01 1194.74,1050.70 1197.42,1051.38 1200.09,1052.06 1202.76,1052.72 1205.43,1053.37 1208.11,1054.02 1210.78,1054.66 1213.45,1055.29 1216.12,1055.91 1218.80,1056.52 1221.47,1057.13 1224.14,1057.73 1226.81,1058.32 1229.48,1058.91 1232.16,1059.48 1234.83,1060.05 1237.50,1060.62 1240.18,1061.17 1242.85,1061.72 1245.52,1062.26 1248.19,1062.80 1250.87,1063.33 1253.54,1063.85 1256.21,1064.37 1258.88,1064.88 1261.56,1065.38 1264.23,1065.88 1266.90,1066.37 1269.57,1066.86 1272.24,1067.34 1274.92,1067.81 1277.59,1068.28 1280.26,1068.75 1282.94,1069.21 1285.61,1069.66 1288.28,1070.11 1290.95,1070.56 1293.62,1071.00 1296.30,1071.44 1298.97,1071.87 1301.64,1072.29 1304.32,1072.72 1306.99,1073.14 1309.66,1073.55 1312.33,1073.96 1315.01,1074.37 1317.68,1074.77 1320.35,1075.17 1323.02,1075.57 1325.70,1075.96 1328.37,1076.35 1331.04,1076.74 1333.71,1077.13 1336.38,1077.51 1339.06,1077.88 1341.73,1078.26 1344.40,1078.63 1347.08,1079.01 1349.75,1079.37 1352.42,1079.74 1355.09,1080.11 1357.77,1080.47 1360.44,1080.83 1363.11,1081.19 1365.78,1081.55 1368.46,1081.90 1371.13,1082.26 1373.80,1082.61 1376.47,1082.96 1379.14,1083.31 1381.82,1083.66 1384.49,1084.01 1387.16,1084.36 1389.84,1084.71 1392.51,1085.06 1395.18,1085.41 1397.85,1085.75 1400.53,1086.10" fill="none" stroke="#FF0000" stroke-width="2.6" stroke-linejoin="round" shape-rendering="crispEdges"/>
<circle cx="331.52" cy="710.20" r="14" fill="#FF0000" shape-rendering="crispEdges"/>
<circle cx="598.77" cy="731.68" r="14" fill="#FF0000" shape-rendering="crispEdges"/>
<circle cx="866.02" cy="892.78" r="14" fill="#FF0000" shape-rendering="crispEdges"/>
<circle cx="1133.28" cy="1032.40" r="14" fill="#FF0000" shape-rendering="crispEdges"/>
<circle cx="1400.53" cy="1086.10" r="14" fill="#FF0000" shape-rendering="crispEdges"/>
<polyline points="331.52,677.98 334.20,676.91 336.87,675.84 339.54,674.77 342.22,673.70 344.89,672.63 347.56,671.56 350.23,670.50 352.91,669.44 355.58,668.39 358.25,667.33 360.92,666.29 363.60,665.24 366.27,664.21 368.94,663.18 371.61,662.15 374.29,661.13 376.96,660.12 379.63,659.12 382.30,658.12 384.98,657.14 387.65,656.16 390.32,655.19 392.99,654.23 395.67,653.29 398.34,652.35 401.01,651.42 403.68,650.51 406.36,649.61 409.03,648.72 411.70,647.84 414.37,646.98 417.04,646.13 419.72,645.30 422.39,644.48 425.06,643.67 427.74,642.88 430.41,642.11 433.08,641.36 435.75,640.62 438.42,639.90 441.10,639.19 443.77,638.51 446.44,637.84 449.12,637.20 451.79,636.57 454.46,635.96 457.13,635.38 459.80,634.81 462.48,634.27 465.15,633.75 467.82,633.25 470.50,632.78 473.17,632.32 475.84,631.90 478.51,631.49 481.19,631.11 483.86,630.76 486.53,630.43 489.20,630.13 491.88,629.85 494.55,629.60 497.22,629.38 499.89,629.19 502.57,629.02 505.24,628.89 507.91,628.78 510.58,628.70 513.25,628.66 515.93,628.64 518.60,628.66 521.27,628.70 523.94,628.78 526.62,628.89 529.29,629.03 531.96,629.21 534.63,629.42 537.31,629.66 539.98,629.94 542.65,630.26 545.32,630.61 548.00,630.99 550.67,631.42 553.34,631.87 556.01,632.37 558.69,632.91 561.36,633.48 564.03,634.09 566.70,634.74 569.38,635.43 572.05,636.16 574.72,636.93 577.39,637.74 580.07,638.59 582.74,639.49 585.41,640.43 588.09,641.40 590.76,642.43 593.43,643.49 596.10,644.60 598.77,645.76 601.45,646.96 604.12,648.20 606.79,649.49 609.47,650.82 612.14,652.20 614.81,653.61 617.48,655.07 620.15,656.56 622.83,658.09 625.50,659.67 628.17,661.28 630.85,662.93 633.52,664.61 636.19,666.33 638.86,668.09 641.54,669.88 644.21,671.70 646.88,673.56 649.55,675.45 652.23,677.37 654.90,679.32 657.57,681.31 660.24,683.32 662.92,685.36 665.59,687.43 668.26,689.52 670.93,691.65 673.61,693.80 676.28,695.97 678.95,698.17 681.62,700.39 684.30,702.64 686.97,704.91 689.64,707.20 692.31,709.51 694.99,711.84 697.66,714.19 700.33,716.56 703.00,718.95 705.68,721.36 708.35,723.78 711.02,726.22 713.69,728.67 716.37,731.14 719.04,733.63 721.71,736.12 724.38,738.63 727.05,741.16 729.73,743.69 732.40,746.23 735.07,748.78 737.75,751.35 740.42,753.92 743.09,756.50 745.76,759.08 748.43,761.67 751.11,764.27 753.78,766.87 756.45,769.48 759.12,772.09 761.80,774.70 764.47,777.32 767.14,779.93 769.82,782.55 772.49,785.17 775.16,787.78 777.83,790.40 780.50,793.01 783.18,795.62 785.85,798.23 788.52,800.83 791.19,803.43 793.87,806.02 796.54,808.61 799.21,811.18 801.88,813.75 804.56,816.32 807.23,818.87 809.90,821.41 812.57,823.95 815.25,826.47 817.92,828.98 820.59,831.47 823.26,833.96 825.94,836.43 828.61,838.88 831.28,841.32 833.95,843.74 836.63,846.15 839.30,848.54 841.97,850.91 844.64,853.26 847.32,855.59 849.99,857.90 852.66,860.19 855.33,862.46 858.01,864.70 860.68,866.93 863.35,869.13 866.02,871.30 868.70,873.45 871.37,875.57 874.04,877.67 876.72,879.75 879.39,881.80 882.06,883.82 884.73,885.82 887.40,887.80 890.08,889.76 892.75,891.69 895.42,893.60 898.10,895.48 900.77,897.35 903.44,899.19 906.11,901.01 908.78,902.80 911.46,904.58 914.13,906.33 916.80,908.07 919.48,909.78 922.15,911.47 924.82,913.14 927.49,914.80 930.17,916.43 932.84,918.04 935.51,919.63 938.18,921.20 940.86,922.76 943.53,924.29 946.20,925.81 948.87,927.31 951.55,928.79 954.22,930.26 956.89,931.70 959.56,933.13 962.23,934.54 964.91,935.94 967.58,937.31 970.25,938.68 972.93,940.02 975.60,941.35 978.27,942.66 980.94,943.96 983.61,945.25 986.29,946.51 988.96,947.77 991.63,949.01 994.31,950.23 996.98,951.44 999.65,952.64 1002.32,953.82 1004.99,955.00 1007.67,956.15 1010.34,957.30 1013.01,958.43 1015.69,959.55 1018.36,960.66 1021.03,961.75 1023.70,962.84 1026.38,963.91 1029.05,964.97 1031.72,966.02 1034.39,967.06 1037.07,968.09 1039.74,969.11 1042.41,970.12 1045.08,971.12 1047.75,972.11 1050.43,973.09 1053.10,974.06 1055.77,975.02 1058.45,975.98 1061.12,976.92 1063.79,977.86 1066.46,978.79 1069.13,979.72 1071.81,980.63 1074.48,981.54 1077.15,982.44 1079.83,983.33 1082.50,984.22 1085.17,985.10 1087.84,985.98 1090.52,986.85 1093.19,987.71 1095.86,988.57 1098.53,989.43 1101.20,990.28 1103.88,991.12 1106.55,991.96 1109.22,992.80 1111.89,993.63 1114.57,994.46 1117.24,995.28 1119.91,996.11 1122.59,996.93 1125.26,997.74 1127.93,998.56 1130.60,999.37 1133.28,1000.18 1135.95,1000.99 1138.62,1001.80 1141.29,1002.60 1143.97,1003.40 1146.64,1004.21 1149.31,1005.01 1151.98,1005.80 1154.65,1006.60 1157.33,1007.40 1160.00,1008.19 1162.67,1008.98 1165.35,1009.77 1168.02,1010.56 1170.69,1011.35 1173.36,1012.14 1176.04,1012.92 1178.71,1013.70 1181.38,1014.49 1184.05,1015.27 1186.73,1016.04 1189.40,1016.82 1192.07,1017.60 1194.74,1018.37 1197.42,1019.15 1200.09,1019.92 1202.76,1020.69 1205.43,1021.46 1208.11,1022.23 1210.78,1023.00 1213.45,1023.76 1216.12,1024.53 1218.80,1025.29 1221.47,1026.05 1224.14,1026.81 1226.81,1027.57 1229.48,1028.33 1232.16,1029.09 1234.83,1029.85 1237.50,1030.60 1240.18,1031.36 1242.85,1032.11 1245.52,1032.86 1248.19,1033.61 1250.87,1034.36 1253.54,1035.11 1256.21,1035.86 1258.88,1036.61 1261.56,1037.36 1264.23,1038.10 1266.90,1038.85 1269.57,1039.59 1272.24,1040.34 1274.92,1041.08 1277.59,1041.82 1280.26,1042.56 1282.94,1043.30 1285.61,1044.04 1288.28,1044.78 1290.95,1045.52 1293.62,1046.25 1296.30,1046.99 1298.97,1047.73 1301.64,1048.46 1304.32,1049.20 1306.99,1049.93 1309.66,1050.66 1312.33,1051.40 1315.01,1052.13 1317.68,1052.86 1320.35,1053.59 1323.02,1054.32 1325.70,1055.05 1328.37,1055.78 1331.04,1056.51 1333.71,1057.24 1336.38,1057.97 1339.06,1058.70 1341.73,1059.42 1344.40,1060.15 1347.08,1060.88 1349.75,1061.60 1352.42,1062.33 1355.09,1063.05 1357.77,1063.78 1360.44,1064.50 1363.11,1065.23 1365.78,1065.95 1368.46,1066.68 1371.13,1067.40 1373.80,1068.13 1376.47,1068.85 1379.14,1069.57 1381.82,1070.30 1384.49,1071.02 1387.16,1071.74 1389.84,1072.47 1392.51,1073.19 1395.18,1073.91 1397.85,1074.64 1400.53,1075.36" fill="none" stroke="#FFA050" stroke-width="2.6" stroke-linejoin="round" shape-rendering="crispEdges"/>
<polygon points="331.52,660.98 348.52,677.98 331.52,694.98 314.52,677.98" fill="#FFA55F" shape-rendering="crispEdges"/>
<polygon points="598.77,628.76 615.77,645.76 598.77,662.76 581.77,645.76" fill="#FFA55F" shape-rendering="crispEdges"/>
<polygon points="866.02,854.30 883.02,871.30 866.02,888.30 849.02,871.30" fill="#FFA55F" shape-rendering="crispEdges"/>
<polygon points="1133.28,983.18 1150.28,1000.18 1133.28,1017.18 1116.28,1000.18" fill="#FFA55F" shape-rendering="crispEdges"/>
<polygon points="1400.53,1058.36 1417.53,1075.36 1400.53,1092.36 1383.53,1075.36" fill="#FFA55F" shape-rendering="crispEdges"/>
<polyline points="331.52,602.80 334.20,600.04 336.87,597.28 339.54,594.52 342.22,591.76 344.89,589.01 347.56,586.26 350.23,583.52 352.91,580.78 355.58,578.05 358.25,575.33 360.92,572.62 363.60,569.91 366.27,567.22 368.94,564.54 371.61,561.87 374.29,559.22 376.96,556.57 379.63,553.95 382.30,551.34 384.98,548.74 387.65,546.17 390.32,543.61 392.99,541.07 395.67,538.56 398.34,536.06 401.01,533.58 403.68,531.13 406.36,528.71 409.03,526.30 411.70,523.93 414.37,521.57 417.04,519.25 419.72,516.96 422.39,514.69 425.06,512.46 427.74,510.25 430.41,508.08 433.08,505.94 435.75,503.83 438.42,501.76 441.10,499.72 443.77,497.72 446.44,495.76 449.12,493.83 451.79,491.94 454.46,490.10 457.13,488.29 459.80,486.53 462.48,484.80 465.15,483.13 467.82,481.49 470.50,479.90 473.17,478.36 475.84,476.86 478.51,475.41 481.19,474.01 483.86,472.66 486.53,471.36 489.20,470.11 491.88,468.91 494.55,467.77 497.22,466.68 499.89,465.64 502.57,464.66 505.24,463.74 507.91,462.87 510.58,462.06 513.25,461.32 515.93,460.63 518.60,460.00 521.27,459.44 523.94,458.93 526.62,458.49 529.29,458.12 531.96,457.81 534.63,457.57 537.31,457.39 539.98,457.28 542.65,457.24 545.32,457.28 548.00,457.38 550.67,457.55 553.34,457.80 556.01,458.12 558.69,458.51 561.36,458.98 564.03,459.52 566.70,460.14 569.38,460.84 572.05,461.62 574.72,462.48 577.39,463.42 580.07,464.44 582.74,465.54 585.41,466.72 588.09,467.99 590.76,469.34 593.43,470.78 596.10,472.31 598.77,473.92 601.45,475.62 604.12,477.41 606.79,479.28 609.47,481.24 612.14,483.28 614.81,485.40 617.48,487.60 620.15,489.88 622.83,492.24 625.50,494.67 628.17,497.17 630.85,499.75 633.52,502.40 636.19,505.11 638.86,507.90 641.54,510.75 644.21,513.67 646.88,516.65 649.55,519.69 652.23,522.80 654.90,525.96 657.57,529.18 660.24,532.46 662.92,535.79 665.59,539.18 668.26,542.61 670.93,546.10 673.61,549.64 676.28,553.22 678.95,556.85 681.62,560.53 684.30,564.25 686.97,568.01 689.64,571.81 692.31,575.65 694.99,579.53 697.66,583.44 700.33,587.39 703.00,591.37 705.68,595.39 708.35,599.43 711.02,603.50 713.69,607.60 716.37,611.73 719.04,615.88 721.71,620.05 724.38,624.24 727.05,628.46 729.73,632.69 732.40,636.94 735.07,641.20 737.75,645.48 740.42,649.77 743.09,654.08 745.76,658.39 748.43,662.71 751.11,667.04 753.78,671.38 756.45,675.71 759.12,680.05 761.80,684.40 764.47,688.74 767.14,693.08 769.82,697.41 772.49,701.74 775.16,706.07 777.83,710.39 780.50,714.70 783.18,719.00 785.85,723.28 788.52,727.55 791.19,731.81 793.87,736.05 796.54,740.28 799.21,744.48 801.88,748.67 804.56,752.83 807.23,756.97 809.90,761.08 812.57,765.16 815.25,769.22 817.92,773.25 820.59,777.25 823.26,781.22 825.94,785.15 828.61,789.04 831.28,792.90 833.95,796.73 836.63,800.51 839.30,804.25 841.97,807.95 844.64,811.60 847.32,815.21 849.99,818.77 852.66,822.29 855.33,825.75 858.01,829.16 860.68,832.52 863.35,835.83 866.02,839.08 868.70,842.27 871.37,845.41 874.04,848.49 876.72,851.52 879.39,854.49 882.06,857.41 884.73,860.27 887.40,863.08 890.08,865.84 892.75,868.55 895.42,871.21 898.10,873.81 900.77,876.37 903.44,878.88 906.11,881.34 908.78,883.75 911.46,886.11 914.13,888.43 916.80,890.70 919.48,892.93 922.15,895.11 924.82,897.25 927.49,899.34 930.17,901.39 932.84,903.40 935.51,905.37 938.18,907.29 940.86,909.18 943.53,911.02 946.20,912.83 948.87,914.60 951.55,916.33 954.22,918.02 956.89,919.68 959.56,921.30 962.23,922.88 964.91,924.43 967.58,925.95 970.25,927.43 972.93,928.88 975.60,930.29 978.27,931.68 980.94,933.03 983.61,934.36 986.29,935.65 988.96,936.91 991.63,938.15 994.31,939.35 996.98,940.53 999.65,941.69 1002.32,942.81 1004.99,943.91 1007.67,944.99 1010.34,946.04 1013.01,947.07 1015.69,948.07 1018.36,949.05 1021.03,950.01 1023.70,950.95 1026.38,951.87 1029.05,952.77 1031.72,953.64 1034.39,954.50 1037.07,955.35 1039.74,956.17 1042.41,956.98 1045.08,957.77 1047.75,958.54 1050.43,959.30 1053.10,960.04 1055.77,960.78 1058.45,961.49 1061.12,962.20 1063.79,962.89 1066.46,963.57 1069.13,964.24 1071.81,964.90 1074.48,965.56 1077.15,966.20 1079.83,966.83 1082.50,967.46 1085.17,968.08 1087.84,968.69 1090.52,969.29 1093.19,969.90 1095.86,970.49 1098.53,971.08 1101.20,971.67 1103.88,972.26 1106.55,972.84 1109.22,973.43 1111.89,974.01 1114.57,974.59 1117.24,975.17 1119.91,975.75 1122.59,976.34 1125.26,976.92 1127.93,977.51 1130.60,978.10 1133.28,978.70 1135.95,979.30 1138.62,979.91 1141.29,980.52 1143.97,981.13 1146.64,981.75 1149.31,982.37 1151.98,983.00 1154.65,983.63 1157.33,984.27 1160.00,984.91 1162.67,985.55 1165.35,986.20 1168.02,986.85 1170.69,987.51 1173.36,988.17 1176.04,988.83 1178.71,989.50 1181.38,990.17 1184.05,990.85 1186.73,991.53 1189.40,992.21 1192.07,992.90 1194.74,993.59 1197.42,994.28 1200.09,994.98 1202.76,995.68 1205.43,996.38 1208.11,997.09 1210.78,997.80 1213.45,998.52 1216.12,999.23 1218.80,999.95 1221.47,1000.68 1224.14,1001.40 1226.81,1002.13 1229.48,1002.87 1232.16,1003.60 1234.83,1004.34 1237.50,1005.08 1240.18,1005.83 1242.85,1006.57 1245.52,1007.32 1248.19,1008.08 1250.87,1008.83 1253.54,1009.59 1256.21,1010.35 1258.88,1011.11 1261.56,1011.88 1264.23,1012.64 1266.90,1013.41 1269.57,1014.19 1272.24,1014.96 1274.92,1015.74 1277.59,1016.52 1280.26,1017.30 1282.94,1018.08 1285.61,1018.86 1288.28,1019.65 1290.95,1020.44 1293.62,1021.23 1296.30,1022.02 1298.97,1022.82 1301.64,1023.61 1304.32,1024.41 1306.99,1025.21 1309.66,1026.01 1312.33,1026.81 1315.01,1027.62 1317.68,1028.42 1320.35,1029.23 1323.02,1030.04 1325.70,1030.85 1328.37,1031.66 1331.04,1032.47 1333.71,1033.29 1336.38,1034.10 1339.06,1034.92 1341.73,1035.73 1344.40,1036.55 1347.08,1037.37 1349.75,1038.19 1352.42,1039.01 1355.09,1039.83 1357.77,1040.66 1360.44,1041.48 1363.11,1042.30 1365.78,1043.13 1368.46,1043.95 1371.13,1044.78 1373.80,1045.60 1376.47,1046.43 1379.14,1047.26 1381.82,1048.08 1384.49,1048.91 1387.16,1049.74 1389.84,1050.57 1392.51,1051.39 1395.18,1052.22 1397.85,1053.05 1400.53,1053.88" fill="none" stroke="#FF38AA" stroke-width="2.6" stroke-linejoin="round" shape-rendering="crispEdges"/>
<polygon points="312.92,602.80 341.52,586.80 341.52,618.80" fill="#FF40B0" shape-rendering="crispEdges"/>
<polygon points="580.17,473.92 608.77,457.92 608.77,489.92" fill="#FF40B0" shape-rendering="crispEdges"/>
<polygon points="847.42,839.08 876.02,823.08 876.02,855.08" fill="#FF40B0" shape-rendering="crispEdges"/>
<polygon points="1114.68,978.70 1143.28,962.70 1143.28,994.70" fill="#FF40B0" shape-rendering="crispEdges"/>
<polygon points="1381.93,1053.88 1410.53,1037.88 1410.53,1069.88" fill="#FF40B0" shape-rendering="crispEdges"/>
<rect x="951" y="486" width="2" height="8" fill="#fff" shape-rendering="crispEdges"/>
<rect x="955" y="497" width="9" height="2" fill="#fff" shape-rendering="crispEdges"/>
<rect x="958" y="41" width="127" height="2" fill="#000000" shape-rendering="crispEdges"/>
<rect x="1009.30" y="30.00" width="24" height="24" fill="#000000" shape-rendering="crispEdges"/>
<text filter="url(#bin)" y="61.00" font-family="Liberation Serif, serif" font-size="52"><tspan x="1097.21" textLength="123.64" lengthAdjust="spacingAndGlyphs">DCM</tspan></text>
<rect x="958" y="123" width="127" height="2" fill="#009000" shape-rendering="crispEdges"/>
<circle cx="1021.30" cy="124.00" r="14" fill="#009400" shape-rendering="crispEdges"/>
<text filter="url(#bin)" y="143.60" font-family="Liberation Serif, serif" font-size="52"><tspan x="1097.21" textLength="123.64" lengthAdjust="spacingAndGlyphs">DCM</tspan> <tspan x="1233.10" textLength="102.40" lengthAdjust="spacingAndGlyphs">with</tspan> <tspan x="1346.11" textLength="93.29" lengthAdjust="spacingAndGlyphs">10%</tspan> <tspan x="1451.31" textLength="207.95" lengthAdjust="spacingAndGlyphs">1-octanol</tspan></text>
<rect x="958" y="206" width="127" height="2" fill="#0066DD" shape-rendering="crispEdges"/>
<polygon points="1021.30,188.00 1037.60,216.50 1005.00,216.50" fill="#0070E0" shape-rendering="crispEdges"/>
<text filter="url(#bin)" y="226.20" font-family="Liberation Serif, serif" font-size="52"><tspan x="1097.21" textLength="123.64" lengthAdjust="spacingAndGlyphs">DCM</tspan> <tspan x="1233.10" textLength="102.40" lengthAdjust="spacingAndGlyphs">with</tspan> <tspan x="1346.96" textLength="92.53" lengthAdjust="spacingAndGlyphs">20%</tspan> <tspan x="1451.51" textLength="207.95" lengthAdjust="spacingAndGlyphs">1-octanol</tspan></text>
<rect x="958" y="289" width="127" height="2" fill="#FF0000" shape-rendering="crispEdges"/>
<circle cx="1021.30" cy="290.00" r="14" fill="#FF0000" shape-rendering="crispEdges"/>
<text filter="url(#bin)" y="308.80" font-family="Liberation Serif, serif" font-size="52"><tspan x="1095.89" textLength="226.84" lengthAdjust="spacingAndGlyphs">n-heptane</tspan></text>
<rect x="958" y="371" width="127" height="2" fill="#FFA050" shape-rendering="crispEdges"/>
<polygon points="1021.30,355.00 1038.30,372.00 1021.30,389.00 1004.30,372.00" fill="#FFA55F" shape-rendering="crispEdges"/>
<text filter="url(#bin)" y="391.40" font-family="Liberation Serif, serif" font-size="52"><tspan x="1095.89" textLength="226.84" lengthAdjust="spacingAndGlyphs">n-heptane</tspan> <tspan x="1337.90" textLength="101.50" lengthAdjust="spacingAndGlyphs">with</tspan> <tspan x="1448.63" textLength="94.69" lengthAdjust="spacingAndGlyphs">10%</tspan> <tspan x="1554.40" textLength="208.05" lengthAdjust="spacingAndGlyphs">1-octanol</tspan></text>
<rect x="958" y="454" width="127" height="2" fill="#FF38AA" shape-rendering="crispEdges"/>
<polygon points="1002.70,455.00 1031.30,439.00 1031.30,471.00" fill="#FF40B0" shape-rendering="crispEdges"/>
<text filter="url(#bin)" y="474.00" font-family="Liberation Serif, serif" font-size="52"><tspan x="1095.89" textLength="226.84" lengthAdjust="spacingAndGlyphs">n-heptane</tspan> <tspan x="1337.90" textLength="101.50" lengthAdjust="spacingAndGlyphs">with</tspan> <tspan x="1449.53" textLength="93.77" lengthAdjust="spacingAndGlyphs">20%</tspan> <tspan x="1554.40" textLength="208.05" lengthAdjust="spacingAndGlyphs">1-octanol</tspan></text></svg>
</body></html>
